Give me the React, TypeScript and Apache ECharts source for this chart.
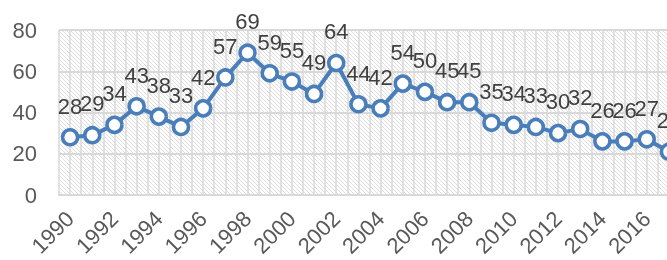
import React, { useEffect, useRef } from "react";
import * as echarts from "echarts";

const years: string[] = [
  "1990", "1991", "1992", "1993", "1994", "1995", "1996", "1997", "1998", "1999",
  "2000", "2001", "2002", "2003", "2004", "2005", "2006", "2007", "2008", "2009",
  "2010", "2011", "2012", "2013", "2014", "2015", "2016", "2017",
];
const values: number[] = [
  28, 29, 34, 43, 38, 33, 42, 57, 69, 59,
  55, 49, 64, 44, 42, 54, 50, 45, 45, 35,
  34, 33, 30, 32, 26, 26, 27, 21,
];
// half-year slots used only for the vertical grid lines
const halfSlots: string[] = years.flatMap((y) => [y + "a", y + "b"]);

function makePattern(): HTMLCanvasElement {
  const c = document.createElement("canvas");
  c.width = 4;
  c.height = 4;
  const ctx = c.getContext("2d")!;
  ctx.fillStyle = "#ffffff";
  ctx.fillRect(0, 0, 4, 4);
  ctx.fillStyle = "#dddddd";
  for (let i = 0; i < 4; i++) ctx.fillRect(i, i, 1, 1);
  return c;
}

export default function App() {
  const ref = useRef<HTMLDivElement>(null);
  useEffect(() => {
    if (!ref.current) return;
    const chart = echarts.init(ref.current, undefined, { renderer: "svg" });
    const font = "'Liberation Sans', Arial, sans-serif";
    chart.setOption({
      animation: false,
      grid: {
        left: 59,
        top: 30,
        bottom: 65,
        right: -13,
        containLabel: false,
        outerBoundsMode: "none",
        show: true,
        borderWidth: 0,
        backgroundColor: { image: makePattern(), repeat: "repeat" },
      },
      xAxis: [
        {
          type: "category",
          data: years,
          boundaryGap: true,
          position: "bottom",
          axisLine: { show: true, lineStyle: { color: "#d9d9d9", width: 2 } },
          axisTick: { show: false },
          splitLine: { show: false },
          axisLabel: {
            interval: 1,
            rotate: 45,
            margin: 20,
            fontSize: 22,
            color: "#595959",
            fontFamily: font,
          },
        },
        {
          type: "category",
          data: halfSlots,
          boundaryGap: true,
          position: "top",
          axisLine: { show: false },
          axisTick: { show: false },
          axisLabel: { show: false },
          splitLine: {
            show: true,
            interval: 0,
            lineStyle: { color: "#d9d9d9", width: 1.5 },
          },
        },
      ],
      yAxis: {
        type: "value",
        min: 0,
        max: 80,
        interval: 20,
        axisLine: { show: false },
        axisTick: { show: false },
        axisLabel: {
          margin: 22,
          fontSize: 22,
          color: "#595959",
          fontFamily: font,
        },
        splitLine: { show: true, lineStyle: { color: "#d9d9d9", width: 2 } },
      },
      series: [
        {
          type: "line",
          xAxisIndex: 0,
          data: values,
          symbol: "circle",
          symbolSize: 15,
          showSymbol: true,
          showAllSymbol: true,
          lineStyle: { color: "#4a7ebb", width: 4 },
          itemStyle: { color: "#ffffff", borderColor: "#4a7ebb", borderWidth: 3.5 },
          label: {
            show: true,
            position: "top",
            distance: 11,
            fontSize: 22,
            color: "#404040",
            fontFamily: font,
          },
        },
      ],
    });
    return () => chart.dispose();
  }, []);
  return (
    <div
      ref={ref}
      style={{ position: "fixed", left: 0, top: 0, width: 667, height: 260 }}
    />
  );
}
